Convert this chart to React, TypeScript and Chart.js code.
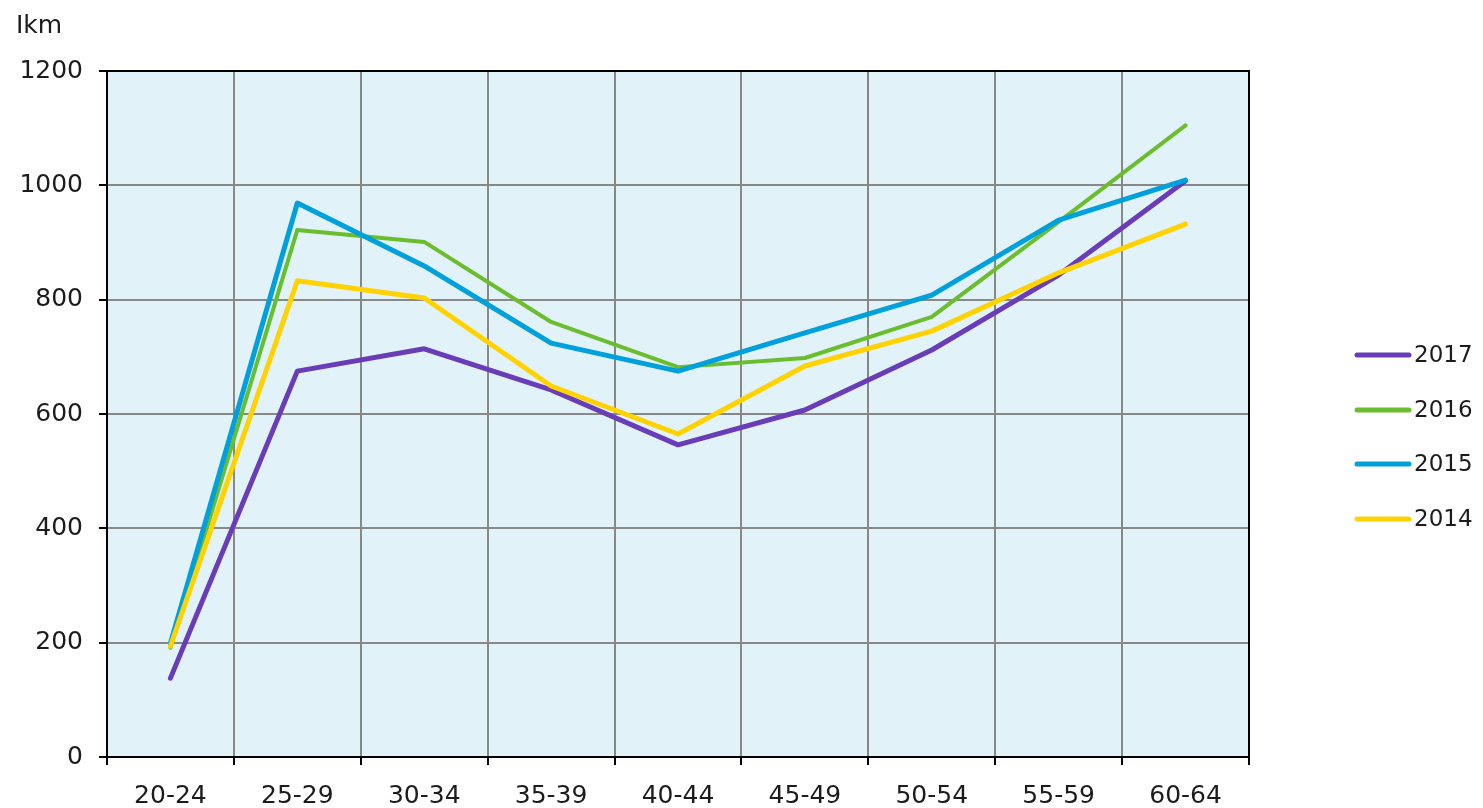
import React, { useEffect, useRef } from "react";
import { Chart, registerables } from "chart.js";

Chart.register(...registerables);

const categories = ["20-24", "25-29", "30-34", "35-39", "40-44", "45-49", "50-54", "55-59", "60-64"];
const seriesNames = ["2017", "2016", "2015", "2014"];
const values2017 = [138, 675, 714, 642, 546, 607, 712, 843, 1008];
const values2016 = [191, 922, 901, 761, 682, 698, 770, 936, 1105];
const values2015 = [199, 969, 859, 724, 675, 742, 808, 939, 1009];
const values2014 = [194, 833, 803, 649, 565, 684, 745, 847, 932];
const colors = ["#6a3db8", "#6abd2c", "#00a0dc", "#ffd200"];
const widths = [5, 4, 5, 5];
const yTicks = [0, 200, 400, 600, 800, 1000, 1200];
const unitLabel = "Ikm";

const FONT = "'DejaVu Sans', sans-serif";
const TEXT = "#1c1c1c";

export default function App() {
  const ref = useRef<HTMLCanvasElement | null>(null);
  useEffect(() => {
    document.body.style.margin = "0";
    const canvas = ref.current!;
    const allValues = [values2017, values2016, values2015, values2014];
    const framePlugin = {
      id: "frame",
      afterDraw(chart: any) {
        const { ctx, chartArea: a } = chart;
        ctx.save();
        ctx.strokeStyle = "#000";
        ctx.lineWidth = 2;
        ctx.strokeRect(a.left, a.top, a.right - a.left, a.bottom - a.top);
        ctx.fillStyle = TEXT;
        ctx.font = `25px ${FONT}`;
        ctx.textBaseline = "alphabetic";
        ctx.textAlign = "left";
        ctx.fillText(unitLabel, 16, 33);
        // legend
        ctx.font = `23px ${FONT}`;
        const ys = [355, 410, 464, 519];
        chart.data.datasets.forEach((ds: any, i: number) => {
          ctx.strokeStyle = ds.borderColor;
          ctx.lineWidth = 5;
          ctx.lineCap = "round";
          ctx.beginPath();
          ctx.moveTo(1357, ys[i]);
          ctx.lineTo(1409, ys[i]);
          ctx.stroke();
          ctx.fillStyle = TEXT;
          ctx.textBaseline = "middle";
          ctx.fillText(ds.label, 1414, ys[i] + 1);
        });
        ctx.restore();
      },
    };
    const chart = new Chart(canvas, {
      type: "line",
      data: {
        labels: categories,
        datasets: seriesNames.map((name, i) => ({
          label: name,
          data: allValues[i],
          borderColor: colors[i],
          backgroundColor: colors[i],
          borderWidth: widths[i],
          pointRadius: 0,
          tension: 0,
          borderCapStyle: "round" as const,
          borderJoinStyle: "round" as const,
          order: 4 - i,
        })),
      },
      options: {
        animation: false,
        responsive: false,
        maintainAspectRatio: false,
        layout: { padding: { left: 0, right: 234, top: 71, bottom: 0 } },
        plugins: { legend: { display: false }, tooltip: { enabled: false }, title: { display: false } },
        scales: {
          x: {
            offset: true,
            grid: { offset: true, color: "#888", lineWidth: 2, tickColor: "#000", tickLength: 8, drawTicks: true },
            border: { color: "#000", width: 2 },
            ticks: { color: TEXT, font: { family: FONT, size: 25 }, padding: 16, maxRotation: 0 },
            afterFit(scale: any) {
              scale.height = 51;
            },
          },
          y: {
            min: 0,
            max: 1200,
            afterBuildTicks(scale: any) {
              scale.ticks = yTicks.map((v) => ({ value: v }));
            },
            grid: { color: "#888", lineWidth: 2, tickColor: "#000", tickLength: 8 },
            border: { color: "#000", width: 2 },
            ticks: {
              color: TEXT,
              font: { family: FONT, size: 25 },
              padding: 16,
              callback: (v: any) => String(v),
            },
            afterFit(scale: any) {
              scale.width = 107;
            },
          },
        },
      },
      plugins: [
        {
          id: "bg",
          beforeDraw(chart: any) {
            const { ctx, chartArea: a } = chart;
            ctx.save();
            ctx.fillStyle = "#e2f2f9";
            ctx.fillRect(a.left, a.top, a.right - a.left, a.bottom - a.top);
            ctx.restore();
          },
        },
        framePlugin,
      ],
    });
    return () => chart.destroy();
  }, []);
  return (
    <div style={{ position: "fixed", left: 0, top: 0, width: 1483, height: 808, background: "#fff" }}>
      <canvas ref={ref} width={1483} height={808} style={{ width: 1483, height: 808 }} />
    </div>
  );
}
